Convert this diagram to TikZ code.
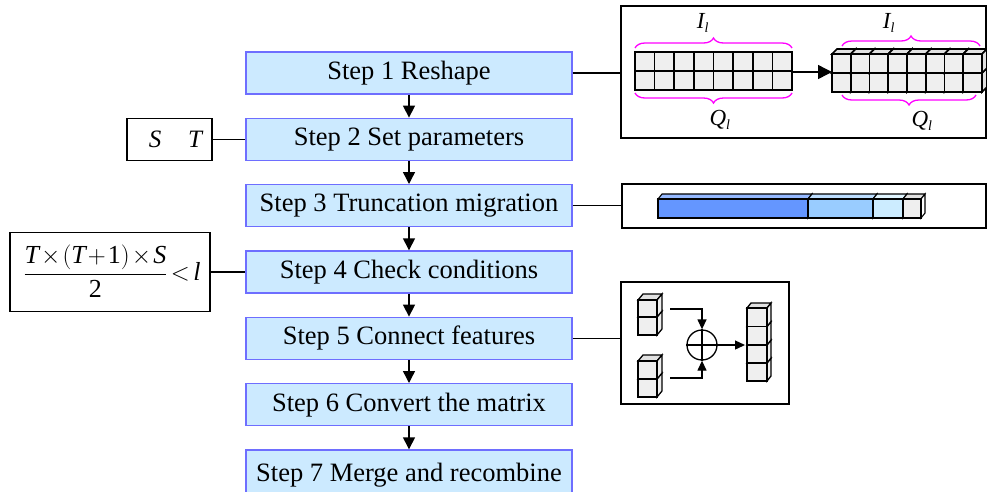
\documentclass[tikz,border=0pt]{standalone}
\usepackage{fontspec}
\setmainfont{Liberation Serif}
\usetikzlibrary{arrows.meta,decorations.pathreplacing,calc}

\definecolor{stepfill}{RGB}{204,234,255}
\definecolor{stepline}{RGB}{110,110,255}
\definecolor{cellgray}{RGB}{239,239,239}
\definecolor{celltop}{RGB}{225,225,225}
\definecolor{barA}{RGB}{100,150,255}
\definecolor{barAtop}{RGB}{150,185,255}
\definecolor{barB}{RGB}{153,204,255}
\definecolor{barBtop}{RGB}{190,222,255}
\definecolor{barC}{RGB}{204,236,255}
\definecolor{barCtop}{RGB}{225,245,255}
\definecolor{bracecol}{RGB}{255,0,255}

% one box-shaped cell: front (#1,#2)-(#3,#4), fills #5 (front), #6 (top), #7 (side)
\newcommand{\prismcell}[7]{%
  \filldraw[fill=#6] (#1,#2) -- (#1+\dpx,#2-\dpy) -- (#3+\dpx,#2-\dpy) -- (#3,#2) -- cycle;
  \filldraw[fill=#7] (#3,#2) -- (#3+\dpx,#2-\dpy) -- (#3+\dpx,#4-\dpy) -- (#3,#4) -- cycle;
  \filldraw[fill=#5] (#1,#2) rectangle (#3,#4);
}
\def\dpx{5}
\def\dpy{5}

\tikzset{
  stepbox/.style={draw=stepline, fill=stepfill, line width=1.4pt,
    minimum width=326pt, minimum height=42pt, inner sep=0pt,
    font=\fontsize{26.5}{29}\selectfont},
  flowarrow/.style={line width=1.4pt, -{Triangle[length=12pt,width=12pt]}},
  sidebox/.style={draw, line width=1.4pt, inner sep=0pt, fill=white},
  panel/.style={draw, line width=1.4pt, inner sep=0pt},
  link/.style={line width=1.2pt},
  cellline/.style={line width=1.6pt},
  curly/.style={draw=bracecol, line width=1.3pt,
    decorate, decoration={brace, amplitude=10pt}},
  lbl/.style={font=\fontsize{23}{25}\selectfont\itshape, inner sep=0pt},
}

\begin{document}
\begin{tikzpicture}[x=1pt, y=-1pt]
\useasboundingbox (0,0) rectangle (987,491);

% main flow
\node[stepbox] (s1) at (409,73) {Step 1 Reshape};
\node[stepbox] (s2) at (409,139.3) {Step 2 Set parameters};
\node[stepbox] (s3) at (409,205.7) {Step 3 Truncation migration};
\node[stepbox] (s4) at (409,272) {Step 4 Check conditions};
\node[stepbox] (s5) at (409,338.3) {Step 5 Connect features};
\node[stepbox] (s6) at (409,404.7) {Step 6 Convert the matrix};
\node[stepbox, minimum height=46pt, text depth=0pt] (s7) at (409,473) {\raisebox{2pt}{Step 7 Merge and recombine}};

\foreach \a/\b in {s1/s2, s2/s3, s3/s4, s4/s5, s5/s6, s6/s7}
  \draw[flowarrow] (\a.south) -- (\b.north);

% parameter boxes on the left
\node[sidebox, minimum width=85pt, minimum height=42pt] (par) at (169.5,139.3) {};
\node[font=\fontsize{25}{27}\selectfont\itshape, inner sep=0pt] (pS) at (155,139) {S};
\node[font=\fontsize{25}{27}\selectfont\itshape, inner sep=0pt] (pT) at (195,139) {T};
\draw[link] (par.east) -- (s2.west);

\node[sidebox, minimum width=200pt, minimum height=79pt] (cond) at (110,272) {};
\node[inner sep=0pt, font=\fontsize{26}{30}\selectfont] (condtxt) at (112,271)
  {\medmuskip=1.5mu\thickmuskip=2.5mu
   $\displaystyle\frac{\textit{T}\times\Bigl(\textit{T}+\textup{1}\Bigr)\times\textit{S}}{\textup{2}}<\textit{l}$};
\draw[link] (cond.east) -- (s4.west);

% panel: reshaping the sequence into a matrix
\node[panel, minimum width=365pt, minimum height=132pt] (p1) at (803.5,72) {};
\draw[link] (s1.east) -- (s1.east -| p1.west);

\filldraw[fill=cellgray, cellline] (635,52) rectangle (792,90);
\foreach \i in {1,...,7} {\draw[cellline] (635+\i*19.625,52) -- (635+\i*19.625,90);}
\draw[cellline] (635,71) -- (792,71);
\coordinate (g1r) at (792,72);

\begin{scope}[cellline]
\foreach \i in {0,...,7}
  {\prismcell{832+\i*18.75}{73}{832+\i*18.75+18.75}{92}{cellgray}{celltop}{celltop}}
\foreach \i in {0,...,7}
  {\prismcell{832+\i*18.75}{54}{832+\i*18.75+18.75}{73}{cellgray}{celltop}{celltop}}
\end{scope}
\coordinate (g2l) at (832,72);
\draw[line width=1.4pt, -{Triangle[length=14pt,width=14pt]}] (g1r) -- (g2l);

\draw[curly] (635,48) -- (792,48);
\node[lbl] (I1) at (703,23) {I\textsubscript{\fontsize{14}{15}\selectfont\itshape l}};
\draw[curly] (792,93) -- (635,93);
\node[lbl] (Q1) at (720,120) {Q\textsubscript{\fontsize{14}{15}\selectfont\itshape l}};
\draw[curly] (842,46) -- (980,46);
\node[lbl] (I2) at (889,23) {I\textsubscript{\fontsize{14}{15}\selectfont\itshape l}};
\draw[curly] (976,95) -- (842,95);
\node[lbl] (Q2) at (922,121) {Q\textsubscript{\fontsize{14}{15}\selectfont\itshape l}};

% panel: truncated bar
\node[panel, minimum width=364pt, minimum height=44pt] (p2) at (804,206) {};
\draw[link] (s3.east) -- (s3.east -| p2.west);
\begin{scope}[line width=1.1pt]
\def\dpx{4}\def\dpy{5}
\prismcell{658}{199}{808}{218}{barA}{barAtop}{barA}
\prismcell{808}{199}{873}{218}{barB}{barBtop}{barB}
\prismcell{873}{199}{903}{218}{barC}{barCtop}{barC}
\prismcell{903}{199}{921}{218}{cellgray}{celltop}{white}
\end{scope}

% panel: feature concatenation
\node[panel, minimum width=168pt, minimum height=122pt] (p3) at (705,343) {};
\draw[link] (s5.east) -- (s5.east -| p3.west);
\begin{scope}[line width=1.3pt]
\def\dpx{5}\def\dpy{6}
\prismcell{638}{317}{657}{335}{cellgray}{celltop}{cellgray}
\prismcell{638}{300}{657}{317}{cellgray}{celltop}{cellgray}
\prismcell{638}{379}{657}{397}{cellgray}{celltop}{cellgray}
\prismcell{638}{361}{657}{379}{cellgray}{celltop}{cellgray}
\def\dpx{4}\def\dpy{5}
\prismcell{747}{363}{767}{381}{cellgray}{celltop}{cellgray}
\prismcell{747}{345}{767}{363}{cellgray}{celltop}{cellgray}
\prismcell{747}{326.5}{767}{345}{cellgray}{celltop}{cellgray}
\prismcell{747}{308}{767}{326.5}{cellgray}{celltop}{cellgray}
\end{scope}
\node[draw, circle, line width=1.3pt, minimum size=30pt, inner sep=0pt] (sum) at (702,345) {};
\draw[line width=1.3pt] (sum.north) -- (sum.south) (sum.west) -- (sum.east);
\coordinate (inA) at (670,309);
\coordinate (inB) at (670,378);
\coordinate (outC) at (745,345);
\draw[line width=1.3pt, -{Triangle[length=10pt,width=9pt]}] (inA) -| (sum.north);
\draw[line width=1.3pt, -{Triangle[length=10pt,width=9pt]}] (inB) -| (sum.south);
\draw[line width=1.3pt, -{Triangle[length=10pt,width=9pt]}] (sum.east) -- (outC);
\end{tikzpicture}
\end{document}
